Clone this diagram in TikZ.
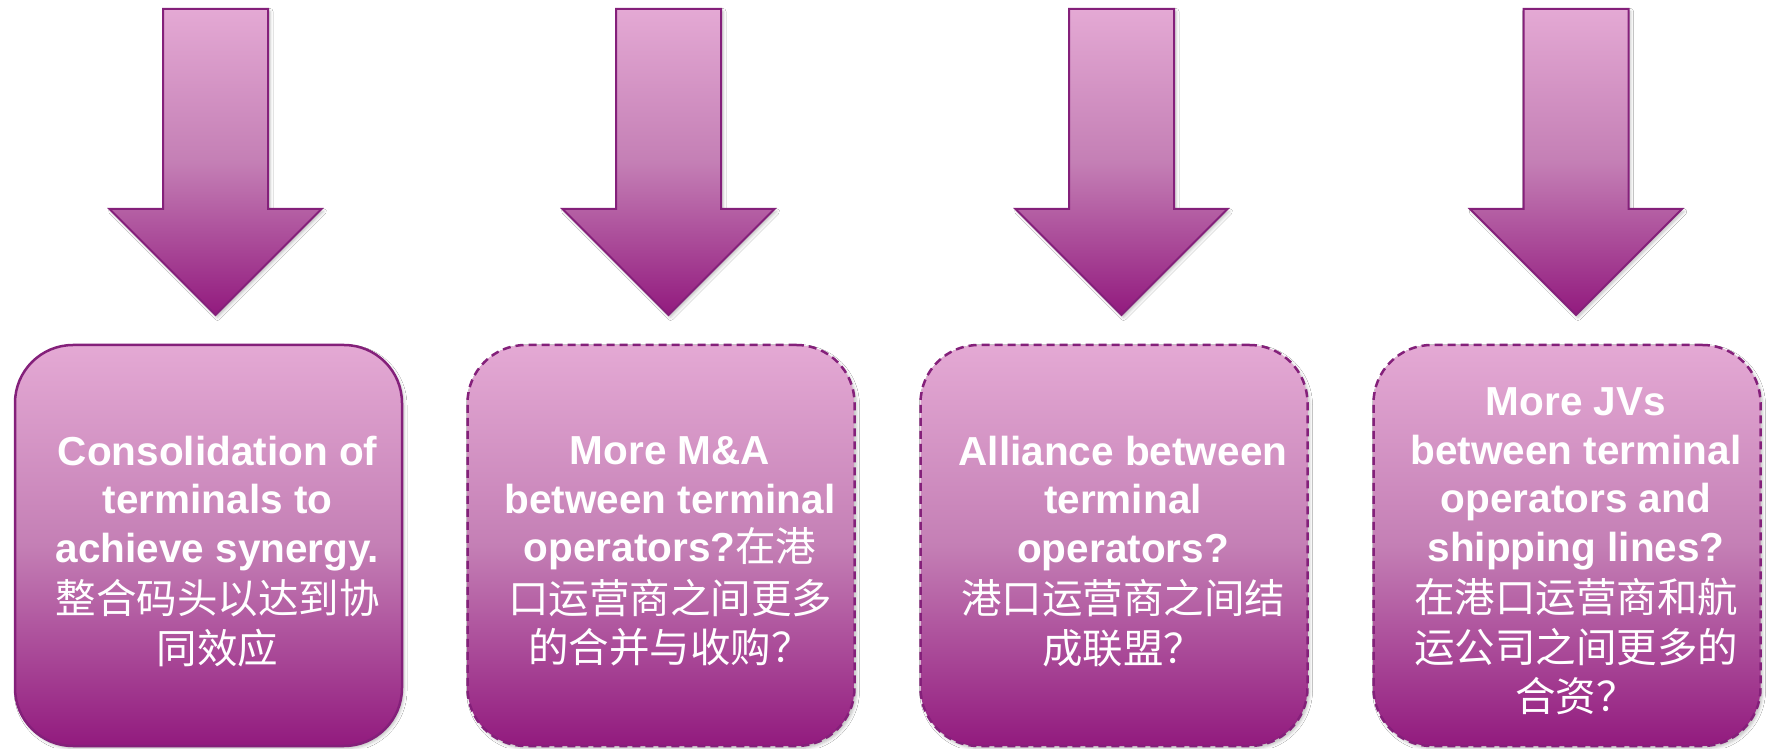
\documentclass[tikz,border=0pt]{standalone}
\usepackage{fontspec}
\setmainfont{Liberation Sans}
\newfontfamily\cjk{Noto Sans CJK SC}
\usetikzlibrary{shadows.blur}
\definecolor{glt}{HTML}{E4A9D4}
\definecolor{gmd}{HTML}{C47FB5}
\definecolor{gdk}{HTML}{921A7E}
\definecolor{edge}{HTML}{84207A}
\pgfdeclareverticalshading{pinkgrad}{100bp}{color(0bp)=(gdk); color(25bp)=(gdk); color(50bp)=(gmd); color(75bp)=(glt); color(100bp)=(glt)}
\newcommand{\zh}[1]{{\cjk\mdseries #1}}
\begin{document}
\begin{tikzpicture}[x=1pt,y=1pt,
  shp/.style={shade, shading=pinkgrad, draw=edge, line width=2pt,
    blur shadow={shadow xshift=2pt, shadow yshift=-2.5pt, shadow blur radius=3pt, shadow opacity=25}},
  card/.style={shp, rectangle, rounded corners=58pt, minimum width=387pt, minimum height=401pt, inner sep=0pt, line width=2.5pt},
  dcard/.style={card, dash pattern=on 8pt off 5pt},
  lbl/.style={text=white, align=center, font=\fontsize{40.5}{48.5}\selectfont\bfseries, inner sep=0pt}]
\fill[white] (0,0) rectangle (1767,748);
\path[use as bounding box] (0,0) rectangle (1767,748);
% arrows
\foreach \cx in {215.5, 668.5, 1121.5, 1576} {
  \path[shp] (\cx-52.5,739) -- (\cx+52.5,739) -- (\cx+52.5,539) -- (\cx+106,539)
    -- (\cx,433) -- (\cx-106,539) -- (\cx-52.5,539) -- cycle;
}
% boxes
\node[card]  (b1) at (208.5,202.5) {};
\node[dcard] (b2) at (661,202.5) {};
\node[dcard] (b3) at (1114,202.5) {};
\node[dcard] (b4) at (1567,202.5) {};
% texts
\node[lbl] (t1) at ([xshift=9pt,yshift=-6pt]b1.center) {Consolidation of\\terminals to\\achieve synergy.\\[3pt]\zh{整合码头以达到协}\\[1pt]\zh{同效应}};
\node[lbl] (t2) at ([xshift=9pt,yshift=-6pt]b2.center) {More M\&A\\between terminal\\operators?\zh{在港}\\[3pt]\zh{口运营商之间更多}\\[1pt]\zh{的合并与收购？}};
\node[lbl] (t3) at ([xshift=9pt,yshift=-6pt]b3.center) {Alliance between\\terminal\\operators?\\[3pt]\zh{港口运营商之间结}\\[1pt]\zh{成联盟？}};
\node[lbl] (t4) at ([xshift=9pt,yshift=-6pt]b4.center) {More JVs\\between terminal\\operators and\\shipping lines?\\[3pt]\zh{在港口运营商和航}\\[1pt]\zh{运公司之间更多的}\\[1pt]\zh{合资？}};
\end{tikzpicture}
\end{document}
